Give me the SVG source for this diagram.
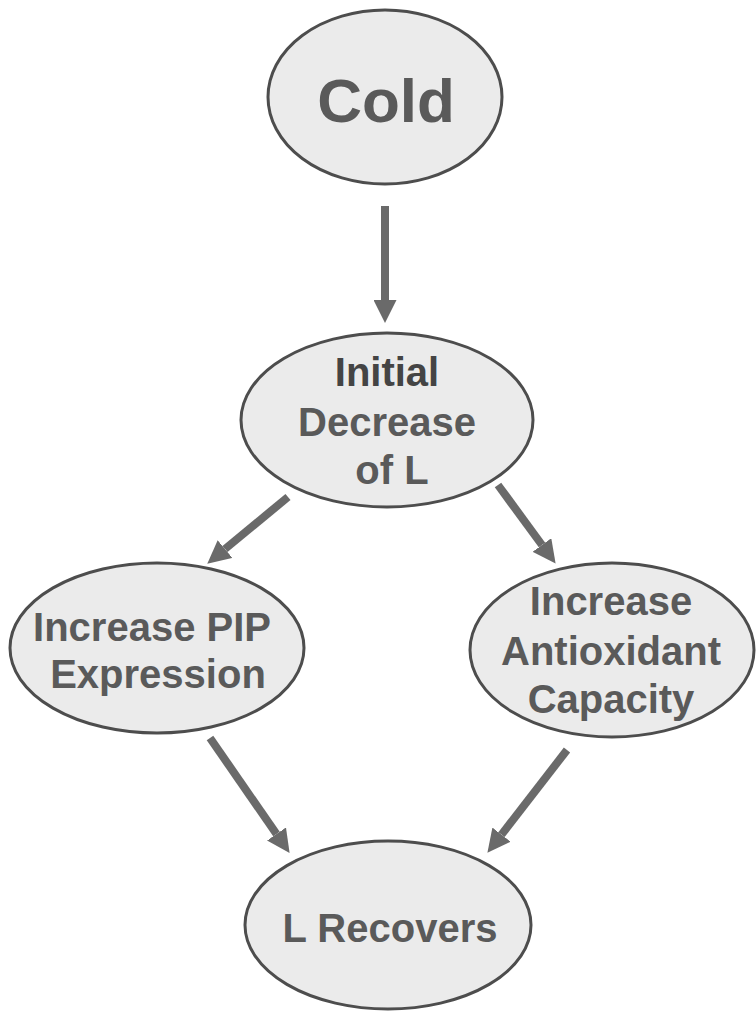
<svg xmlns="http://www.w3.org/2000/svg" width="756" height="1013" viewBox="0 0 756 1013">
<defs>
<style>
.node ellipse{fill:#ebebeb;stroke:#4d4d4d;stroke-width:3}
.node text{font-family:"Liberation Sans",Arial,sans-serif;font-weight:bold;font-size:40px;fill:#5a5a5a;text-anchor:middle}
.conn line{stroke:#6a6a6a;stroke-width:8;marker-end:url(#head)}
</style>
<marker id="head" markerUnits="userSpaceOnUse" markerWidth="23" markerHeight="23" viewBox="0 0 23 23" refX="0" refY="11.5" orient="auto">
<path d="M0,0 L23,11.5 L0,23 z" fill="#6a6a6a"/>
</marker>
</defs>
<rect width="756" height="1013" fill="#ffffff"/>
<g id="connectors" class="conn">
<line x1="385" y1="206" x2="385" y2="300"/>
<line x1="288" y1="497" x2="225" y2="549"/>
<line x1="498" y1="485" x2="542" y2="545"/>
<line x1="210" y1="738" x2="276.5" y2="834"/>
<line x1="567" y1="750" x2="501.5" y2="834.6"/>
</g>
<g id="cold" class="node">
<ellipse cx="385" cy="97" rx="117" ry="87"/>
<text x="386" y="122" style="font-size:62px">Cold</text>
</g>
<g id="initial" class="node">
<ellipse cx="387" cy="420" rx="146" ry="87"/>
<text x="387" y="386" style="fill:#444">Initial</text>
<text x="387" y="436">Decrease</text>
<text x="392" y="484">of L</text>
</g>
<g id="pip" class="node">
<ellipse cx="157" cy="648" rx="147" ry="85"/>
<text x="152" y="641">Increase PIP</text>
<text x="158" y="688">Expression</text>
</g>
<g id="antioxidant" class="node">
<ellipse cx="612" cy="650" rx="142" ry="87"/>
<text x="611" y="615">Increase</text>
<text x="611" y="665">Antioxidant</text>
<text x="611" y="713">Capacity</text>
</g>
<g id="recovers" class="node">
<ellipse cx="388" cy="925" rx="143" ry="84"/>
<text x="390" y="942">L Recovers</text>
</g>
</svg>
